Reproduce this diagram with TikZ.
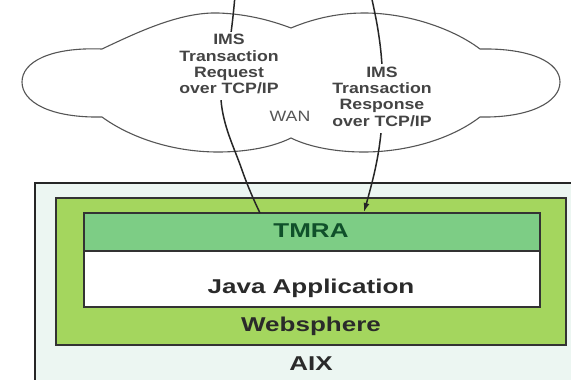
\documentclass[tikz,border=0pt]{standalone}
\usepackage{fontspec}
\setmainfont{Liberation Sans}
\usetikzlibrary{arrows.meta}
\definecolor{aixfill}{HTML}{ECF6F2}
\definecolor{webfill}{HTML}{A4D65E}
\definecolor{tmrafill}{HTML}{7DCD85}
\definecolor{tmratext}{HTML}{10502A}
\definecolor{darktext}{HTML}{2A2A2A}
\definecolor{labeltext}{HTML}{444444}
\definecolor{borderc}{HTML}{333333}
\definecolor{cloudc}{HTML}{555555}
\tikzset{
  layerbox/.style={draw=borderc, line width=1.6pt, inner sep=0pt},
  biglabel/.style={font=\bfseries\fontsize{20}{22}\selectfont, inner sep=0pt},
  cloudlabel/.style={font=\bfseries\fontsize{15}{16.3}\selectfont, text=labeltext, fill=white, inner sep=1.5pt},
  flow/.style={line width=1.5pt, draw=black!85},
}
\newcommand{\sx}[2][1.18]{\scalebox{#1}[1]{#2}}
\begin{document}
\begin{tikzpicture}[x=1pt,y=-1pt]
\useasboundingbox (0,0) rectangle (571,380);
\clip (0,0) rectangle (571,380);
\fill[white] (0,0) rectangle (571,380);
% cloud
\draw[cloudc, line width=1.1pt, fill=white]
  (102,49) .. controls (138,32) and (180,12) .. (218,13)
  .. controls (250,14) and (275,22) .. (291,28)
  .. controls (310,20) and (335,13) .. (364,13)
  .. controls (410,13) and (455,30) .. (480,49)
  .. controls (530,48) and (560,62) .. (560,82)
  .. controls (560,102) and (530,118) .. (480,117)
  .. controls (450,140) and (405,152) .. (364,152)
  .. controls (330,152) and (305,145) .. (291,138)
  .. controls (275,146) and (250,152) .. (218,152)
  .. controls (170,152) and (128,136) .. (102,117)
  .. controls (50,118) and (22,102) .. (22,82)
  .. controls (22,62) and (50,47) .. (102,49) -- cycle;
% AIX layer
\draw[draw=black!85, line width=2.4pt, fill=aixfill] (35,183) rectangle (600,400);
\node[layerbox, fill=webfill, minimum width=510pt, minimum height=147pt] (web) at (311,271.5) {};
\node[layerbox, fill=white, minimum width=456pt, minimum height=56pt] (java) at (312,279) {};
\node[layerbox, fill=tmrafill, minimum width=456pt, minimum height=38pt] (tmra) at (312,232) {};
\node[biglabel, text=tmratext] (tmralabel) at (311,231) {\sx[1.3]{TMRA}};
\node[biglabel, text=darktext] (javalabel) at (311,288) {\sx[1.3]{Java Application}};
\node[biglabel, text=darktext] (weblabel) at (311,326) {\sx[1.3]{Websphere}};
\node[biglabel, text=darktext] (aixlabel) at (311,364) {\sx[1.3]{AIX}};
% connectors
\coordinate (reqtop) at (235,-5);
\coordinate (reqend) at (260,213);
\coordinate (restop) at (371,-5);
\coordinate (resend) at (364,212);
\draw[flow] plot[smooth, tension=0.7] coordinates {(reqtop) (231,33) (221,100) (242,170) (reqend)};
\draw[flow, -{Latex[length=9pt,width=6pt]}] plot[smooth, tension=0.7] coordinates {(restop) (378,30) (382,65) (383,100) (381,133) (375,170) (resend)};
% cloud labels
\node[cloudlabel] (req) at (229,66) {\sx{\begin{tabular}{@{}c@{}}IMS\\Transaction\\Request\\over TCP/IP\end{tabular}}};
\node[cloudlabel] (res) at (382,98.5) {\sx{\begin{tabular}{@{}c@{}}IMS\\Transaction\\Response\\over TCP/IP\end{tabular}}};
\node[font=\fontsize{15}{17}\selectfont, text=cloudc, inner sep=0pt] (wan) at (290,116) {\sx{WAN}};
\end{tikzpicture}
\end{document}
